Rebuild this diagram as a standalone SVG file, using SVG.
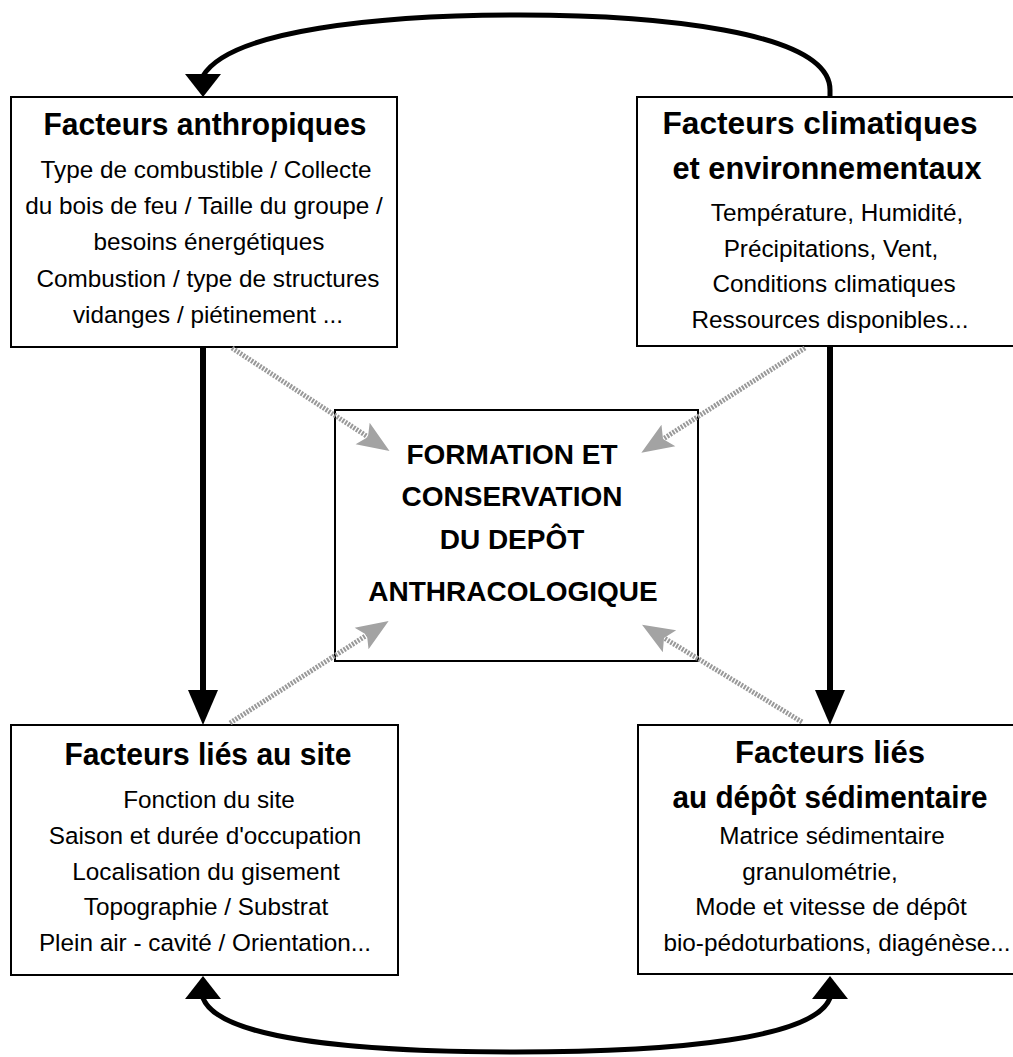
<svg xmlns="http://www.w3.org/2000/svg" width="1013" height="1057" viewBox="0 0 1013 1057">
<style>
.box{fill:#fff;stroke:#000;stroke-width:2}
.ttl{font-family:"Liberation Sans Narrow","Liberation Sans",Arial,sans-serif;font-weight:bold;font-size:32px;text-anchor:middle;fill:#000}
.txt{font-family:"Liberation Sans",Arial,sans-serif;font-size:24.3px;text-anchor:middle;fill:#000}
.ctr{font-family:"Liberation Sans",Arial,sans-serif;font-weight:bold;font-size:28px;text-anchor:middle;fill:#000}
.thick{fill:none;stroke:#000;stroke-width:6}
.curve{fill:none;stroke:#000;stroke-width:5}
.dot{fill:none;stroke:#999;stroke-width:5;stroke-dasharray:2 1.3;marker-end:url(#ga)}
.head{fill:#000}
</style>
<defs>
<marker id="ga" markerUnits="userSpaceOnUse" markerWidth="40" markerHeight="30" viewBox="-8 -14 34 28" refX="0" refY="0" orient="auto">
<path d="M24,0 L-6,-12 L0,0 L-6,12 Z" fill="#a3a3a3"/>
</marker>
</defs>
<g id="node-anthropiques">
<rect class="box" x="11" y="97" width="386" height="250"/>
<text class="ttl" x="205" y="135" textLength="323" lengthAdjust="spacingAndGlyphs">Facteurs anthropiques</text>
<text class="txt" x="206" y="178">Type de combustible / Collecte</text>
<text class="txt" x="204" y="214">du bois de feu / Taille du groupe /</text>
<text class="txt" x="209" y="250">besoins énergétiques</text>
<text class="txt" x="208" y="287">Combustion / type de structures</text>
<text class="txt" x="208" y="323">vidanges / piétinement ...</text>
</g>
<g id="node-climatiques">
<rect class="box" x="637" y="97" width="378" height="249"/>
<text class="ttl" x="820" y="134" textLength="315" lengthAdjust="spacingAndGlyphs">Facteurs climatiques</text>
<text class="ttl" x="827" y="179" textLength="309" lengthAdjust="spacingAndGlyphs">et environnementaux</text>
<text class="txt" x="837" y="221">Température, Humidité,</text>
<text class="txt" x="831" y="257">Précipitations, Vent,</text>
<text class="txt" x="834" y="292">Conditions climatiques</text>
<text class="txt" x="830" y="328">Ressources disponibles...</text>
</g>
<g id="node-formation">
<rect class="box" x="335" y="410" width="363" height="251"/>
<text class="ctr" x="512" y="464">FORMATION ET</text>
<text class="ctr" x="512" y="506">CONSERVATION</text>
<text class="ctr" x="512" y="549">DU DEPÔT</text>
<text class="ctr" x="513" y="601">ANTHRACOLOGIQUE</text>
</g>
<g id="node-site">
<rect class="box" x="11" y="725" width="387" height="250"/>
<text class="ttl" x="208" y="765" textLength="287" lengthAdjust="spacingAndGlyphs">Facteurs liés au site</text>
<text class="txt" x="209" y="808">Fonction du site</text>
<text class="txt" x="205" y="844">Saison et durée d'occupation</text>
<text class="txt" x="206" y="880">Localisation du gisement</text>
<text class="txt" x="206" y="915">Topographie / Substrat</text>
<text class="txt" x="205" y="951">Plein air - cavité / Orientation...</text>
</g>
<g id="node-sedimentaire">
<rect class="box" x="638" y="725" width="377" height="249"/>
<text class="ttl" x="830" y="763" textLength="190" lengthAdjust="spacingAndGlyphs">Facteurs liés</text>
<text class="ttl" x="830" y="808" textLength="315" lengthAdjust="spacingAndGlyphs">au dépôt sédimentaire</text>
<text class="txt" x="832" y="844">Matrice sédimentaire</text>
<text class="txt" x="820" y="880">granulométrie,</text>
<text class="txt" x="831" y="915">Mode et vitesse de dépôt</text>
<text class="txt" x="837" y="951">bio-pédoturbations, diagénèse...</text>
</g>
<g id="connectors">
<path class="curve" d="M830 97 L830 90 C830 30 650 15 520 15 C380 15 230 30 203 76"/>
<polygon class="head" points="185,74 221,74 203,97"/>
<path class="curve" d="M203 998 C218 1038 350 1052 515 1052 C680 1052 815 1038 830 998"/>
<polygon class="head" points="185,999 221,999 203,976"/>
<polygon class="head" points="812,999 848,999 830,976"/>
<line class="thick" x1="203" y1="348" x2="203" y2="692"/>
<polygon class="head" points="188,690 218,690 203,725"/>
<line class="thick" x1="830" y1="347" x2="830" y2="692"/>
<polygon class="head" points="815,690 845,690 830,725"/>
<line class="dot" x1="232" y1="348" x2="368" y2="437"/>
<line class="dot" x1="805" y1="348" x2="663" y2="439"/>
<line class="dot" x1="230" y1="723" x2="367" y2="635"/>
<line class="dot" x1="802" y1="722" x2="664" y2="638"/>
</g>
</svg>
